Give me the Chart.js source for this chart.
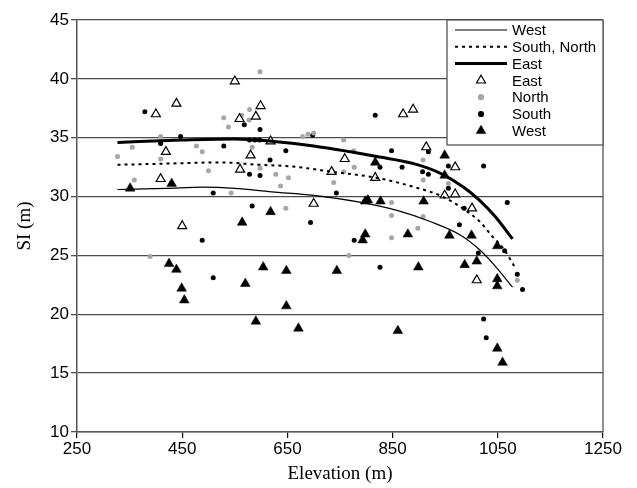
<!DOCTYPE html>
<html>
<head>
<meta charset="utf-8">
<script src="https://cdn.jsdelivr.net/npm/chart.js"></script>
<style>
  html, body { margin: 0; padding: 0; background: #fff; }
  #wrap { width: 637px; height: 488px; }
</style>
</head>
<body>
<div id="wrap"><canvas id="chart"></canvas></div>
<script>
// observed plots, elevation (m) vs SI (m)
const eastX = [400, 439, 550, 419, 409, 559, 590, 599, 580, 560, 618, 734, 759, 700, 450, 870, 889, 914, 969, 817, 949, 969, 1001, 1010];
const eastY = [37.0, 37.9, 39.8, 33.8, 31.5, 36.6, 36.8, 37.7, 33.5, 32.3, 34.7, 32.1, 33.2, 29.4, 27.5, 37.0, 37.4, 34.2, 32.5, 31.6, 30.1, 30.2, 29.0, 22.9];

const northX = [327, 355, 359, 409, 409, 477, 488, 500, 529, 538, 563, 578, 577, 598, 583, 598, 628, 637, 652, 543, 647, 679, 689, 700, 757, 776, 777, 757, 738, 389, 767, 908, 908, 956, 848, 848, 908, 898, 848, 1087];
const northY = [33.4, 34.2, 31.4, 35.1, 33.2, 34.3, 33.8, 32.2, 36.7, 35.9, 36.9, 37.4, 36.5, 40.6, 34.2, 32.4, 31.9, 30.9, 31.6, 30.3, 29.0, 35.1, 35.3, 35.4, 34.8, 33.9, 32.5, 32.1, 31.2, 24.9, 25.0, 33.1, 31.4, 31.1, 29.5, 28.4, 28.3, 27.3, 26.5, 22.9];

const southX = [379, 447, 409, 568, 598, 529, 578, 588, 597, 647, 617, 578, 598, 509, 583, 694, 698, 743, 488, 509, 777, 817, 848, 918, 826, 868, 907, 918, 956, 1023, 956, 1068, 986, 977, 826, 1013, 1063, 1087, 1097, 1023, 1028];
const southY = [37.2, 35.1, 34.5, 36.1, 35.7, 34.3, 34.8, 34.8, 34.8, 33.9, 33.1, 31.9, 31.8, 30.3, 29.2, 27.8, 35.2, 30.3, 26.3, 23.1, 26.3, 36.9, 33.9, 33.8, 32.5, 32.5, 32.1, 31.9, 32.6, 32.6, 30.7, 29.5, 29.0, 27.6, 24.0, 25.2, 25.4, 23.4, 22.1, 19.6, 18.0];

const westX = [351, 430, 564, 618, 425, 439, 449, 454, 570, 590, 604, 648, 648, 671, 744, 949, 817, 949, 798, 803, 827, 909, 798, 793, 879, 958, 1000, 1049, 1010, 987, 899, 1049, 1049, 860, 1049, 1059];
const westY = [30.7, 31.1, 27.8, 28.7, 24.3, 23.8, 22.2, 21.2, 22.6, 19.4, 24.0, 23.7, 20.7, 18.8, 23.7, 33.5, 32.9, 31.8, 29.6, 29.7, 29.6, 29.6, 26.8, 26.3, 26.8, 26.7, 26.7, 25.8, 24.5, 24.2, 24.0, 23.0, 22.4, 18.6, 17.1, 15.9];

// fitted curves
const westCurveX = [327, 420, 490, 550, 620, 700, 790, 860, 920, 980, 1015, 1045, 1078];
const westCurveY = [30.6, 30.7, 30.8, 30.7, 30.4, 30.1, 29.5, 28.8, 27.9, 26.7, 25.5, 24.1, 22.3];
const snCurveX = [327, 420, 521, 597, 660, 736, 819, 888, 945, 983, 1015, 1040, 1062, 1085];
const snCurveY = [32.7, 32.8, 32.9, 32.7, 32.55, 32.1, 31.6, 30.85, 30.0, 29.0, 27.9, 26.6, 25.5, 23.8];
const eastCurveX = [327, 450, 550, 620, 700, 770, 820, 890, 940, 985, 1015, 1045, 1078];
const eastCurveY = [34.6, 34.8, 34.9, 34.7, 34.3, 33.8, 33.4, 32.8, 32.0, 30.8, 29.7, 28.3, 26.4];

const xTicks = [250, 450, 650, 850, 1050, 1250];
const yTicks = [10, 15, 20, 25, 30, 35, 40, 45];

function pts(xs, ys) {
  return xs.map((x, i) => ({ x: x, y: ys[i] }));
}

const curve = (label, xs, ys, width, dash) => ({
  label: label,
  data: pts(xs, ys),
  showLine: true,
  borderColor: "#000",
  borderWidth: width,
  borderDash: dash,
  pointRadius: 0,
  cubicInterpolationMode: "monotone",
  isCurve: true,
});

// legend box inside the plot, top right
const boxLegend = {
  id: "boxLegend",
  afterDraw(chart) {
    const ctx = chart.ctx;
    const a = chart.chartArea;
    const w = 156, h = 125;
    const left = a.right - w, top = a.top;
    ctx.save();
    ctx.fillStyle = "#fff";
    ctx.fillRect(left, top, w, h);
    ctx.strokeStyle = "#555";
    ctx.lineWidth = 1.3;
    ctx.strokeRect(left, top, w, h);
    ctx.font = "15px 'Liberation Sans', Arial, sans-serif";
    ctx.textBaseline = "middle";
    chart.data.datasets.forEach((ds, i) => {
      const y = top + 10 + i * 16.8;
      if (ds.isCurve) {
        ctx.beginPath();
        ctx.strokeStyle = "#000";
        ctx.lineWidth = ds.borderWidth;
        ctx.setLineDash(ds.borderDash || []);
        ctx.moveTo(left + 8, y);
        ctx.lineTo(left + 60, y);
        ctx.stroke();
        ctx.setLineDash([]);
      } else {
        const cx = left + 34;
        ctx.beginPath();
        if (ds.pointStyle === "triangle") {
          const r = ds.pointRadius;
          for (let k = 0; k < 3; k++) {
            const ang = k * 2 * Math.PI / 3;
            const px = cx + Math.sin(ang) * r;
            const py = y - Math.cos(ang) * r;
            k === 0 ? ctx.moveTo(px, py) : ctx.lineTo(px, py);
          }
          ctx.closePath();
        } else {
          ctx.arc(cx, y, ds.pointRadius, 0, Math.PI * 2);
        }
        ctx.fillStyle = ds.backgroundColor;
        ctx.fill();
        ctx.strokeStyle = ds.borderColor;
        ctx.lineWidth = ds.borderWidth;
        ctx.stroke();
      }
      ctx.fillStyle = "#000";
      ctx.fillText(ds.label, left + 65, y + 1);
    });
    ctx.restore();
  },
};

// right frame line
const frame = {
  id: "frame",
  beforeDatasetsDraw(chart) {
    const ctx = chart.ctx;
    const a = chart.chartArea;
    ctx.save();
    ctx.strokeStyle = "#555";
    ctx.lineWidth = 1.3;
    ctx.beginPath();
    ctx.moveTo(a.right, a.top);
    ctx.lineTo(a.right, a.bottom);
    ctx.stroke();
    ctx.restore();
  },
};

new Chart(document.getElementById("chart"), {
  type: "scatter",
  data: {
    datasets: [
      curve("West", westCurveX, westCurveY, 1.2, []),
      curve("South, North", snCurveX, snCurveY, 2, [3, 4]),
      curve("East", eastCurveX, eastCurveY, 3, []),
      {
        label: "East",
        data: pts(eastX, eastY),
        pointStyle: "triangle",
        pointRadius: 5.2,
        backgroundColor: "#fff",
        borderColor: "#000",
        borderWidth: 1.2,
      },
      {
        label: "North",
        data: pts(northX, northY),
        pointStyle: "circle",
        pointRadius: 2.5,
        backgroundColor: "#a6a6a6",
        borderColor: "#a6a6a6",
        borderWidth: 0,
      },
      {
        label: "South",
        data: pts(southX, southY),
        pointStyle: "circle",
        pointRadius: 2.5,
        backgroundColor: "#000",
        borderColor: "#000",
        borderWidth: 0,
      },
      {
        label: "West",
        data: pts(westX, westY),
        pointStyle: "triangle",
        pointRadius: 5.6,
        backgroundColor: "#000",
        borderColor: "#000",
        borderWidth: 0.5,
      },
    ],
  },
  options: {
    responsive: true,
    maintainAspectRatio: false,
    animation: false,
    layout: { padding: { left: 0, top: 20, right: 34, bottom: 0 } },
    plugins: { legend: { display: false }, tooltip: { enabled: false } },
    scales: {
      x: {
        type: "linear",
        min: 250,
        max: 1250,
        afterBuildTicks: (s) => { s.ticks = xTicks.map((v) => ({ value: v })); },
        afterFit: (s) => { s.height = 56; },
        ticks: {
          color: "#000",
          padding: 1,
          maxRotation: 0,
          callback: (v) => String(v),
          font: { family: "'Liberation Sans', Arial, sans-serif", size: 17 },
        },
        grid: { drawOnChartArea: false, color: "#000", tickLength: 6, lineWidth: 1.2 },
        border: { color: "#555", width: 1.5 },
        title: {
          display: true,
          text: "Elevation (m)",
          color: "#000",
          padding: { top: 0, bottom: 3 },
          font: { family: "'Liberation Serif', 'Times New Roman', serif", size: 19 },
        },
      },
      y: {
        min: 10,
        max: 45,
        afterBuildTicks: (s) => { s.ticks = yTicks.map((v) => ({ value: v })); },
        afterFit: (s) => { s.width = 77; },
        ticks: {
          color: "#000",
          padding: 2,
          callback: (v) => String(v),
          font: { family: "'Liberation Sans', Arial, sans-serif", size: 17 },
        },
        grid: { color: "#4d4d4d", lineWidth: 1.3, tickLength: 6 },
        border: { color: "#555", width: 1.5 },
        title: {
          display: true,
          text: "SI (m)",
          color: "#000",
          padding: { top: 14, bottom: 0 },
          font: { family: "'Liberation Serif', 'Times New Roman', serif", size: 19 },
        },
      },
    },
  },
  plugins: [frame, boxLegend],
});
</script>
</body>
</html>
